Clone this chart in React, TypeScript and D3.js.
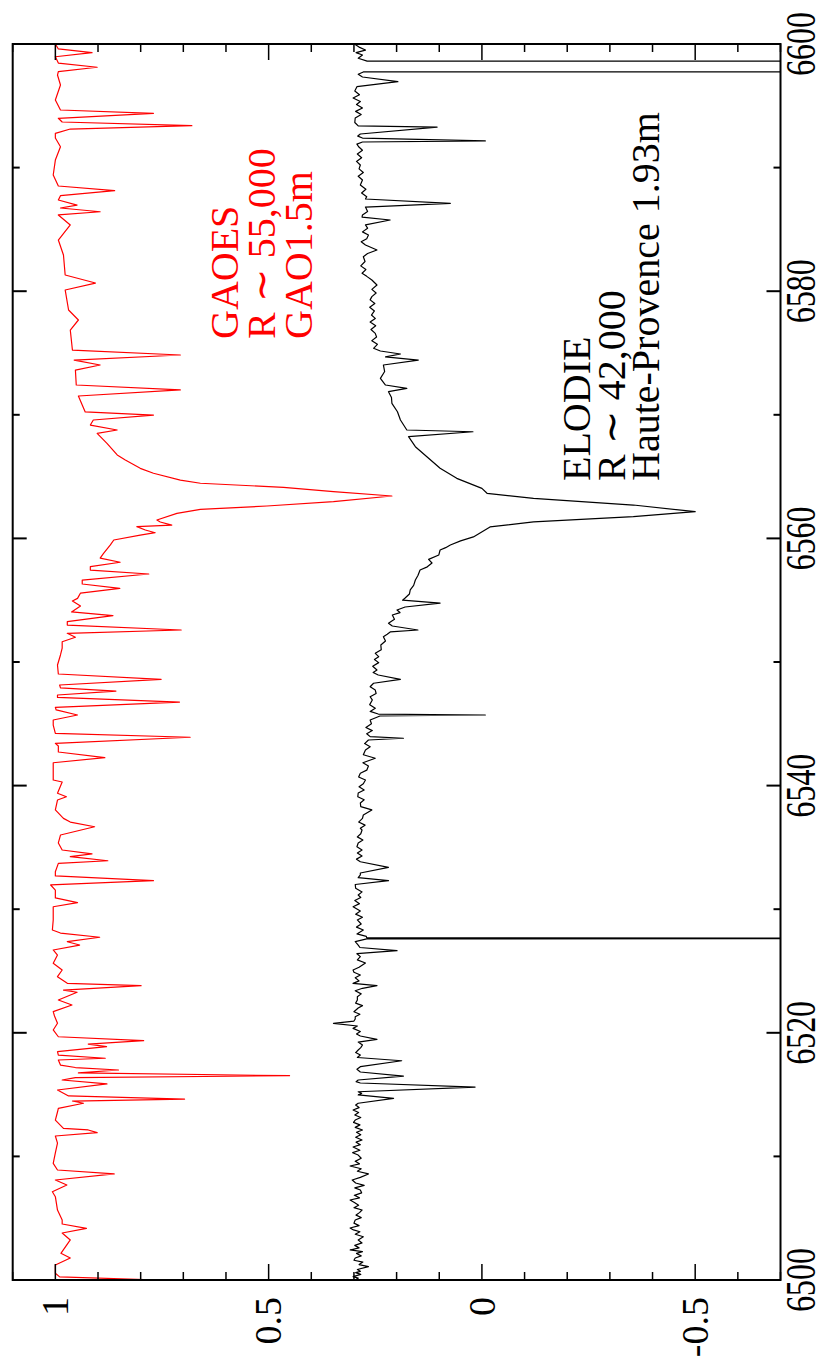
import React from "react";
import * as d3 from "d3";

// GAOES spectrum (wavelength Å, normalized flux)
const gaoes: [number, number][] = [
  [6500.00, 0.755], [6500.25, 0.990], [6500.54, 1.000], [6501.21, 1.000], [6501.78, 0.965], [6502.16, 0.987],
  [6503.24, 0.965], [6503.80, 0.984], [6504.18, 0.927], [6504.53, 0.984], [6504.85, 0.984], [6505.66, 0.995],
  [6506.74, 1.000], [6507.14, 1.007], [6507.69, 0.973], [6508.09, 1.000], [6508.58, 0.862], [6508.90, 0.995],
  [6509.44, 1.005], [6510.28, 1.000], [6511.08, 0.995], [6511.65, 1.000], [6511.92, 0.902], [6512.14, 0.923],
  [6512.27, 0.981], [6512.94, 1.000], [6513.59, 0.995], [6513.89, 0.993], [6514.30, 0.934], [6514.48, 0.960],
  [6514.64, 0.697], [6514.89, 0.969], [6515.37, 0.995], [6515.86, 0.879], [6516.18, 0.984], [6516.38, 0.953],
  [6516.53, 0.451], [6516.75, 0.946], [6516.99, 0.852], [6517.19, 0.953], [6517.39, 0.988], [6517.80, 0.993],
  [6517.94, 0.883], [6518.20, 0.993], [6518.47, 0.995], [6518.88, 0.880], [6519.09, 0.923], [6519.36, 0.793],
  [6519.68, 0.993], [6520.23, 1.005], [6520.77, 0.995], [6521.36, 1.002], [6521.71, 1.005], [6522.25, 0.961],
  [6522.65, 0.993], [6523.28, 0.949], [6523.46, 0.981], [6523.81, 0.799], [6524.00, 0.972], [6524.54, 0.995],
  [6525.08, 0.984], [6525.62, 1.005], [6526.29, 0.995], [6526.70, 1.005], [6527.10, 0.943], [6527.37, 0.972],
  [6527.73, 0.896], [6528.07, 0.988], [6528.32, 1.007], [6529.13, 1.005], [6530.20, 1.005], [6530.53, 0.948],
  [6530.91, 1.000], [6531.55, 1.000], [6531.96, 1.011], [6532.31, 0.770], [6532.69, 1.000], [6533.03, 1.000],
  [6533.71, 0.993], [6533.92, 0.877], [6534.25, 0.965], [6534.47, 0.914], [6534.79, 0.984], [6535.36, 0.993],
  [6536.00, 0.988], [6536.67, 0.908], [6537.05, 0.965], [6537.35, 0.981], [6538.03, 1.000], [6538.83, 0.995],
  [6539.10, 0.974], [6539.38, 0.995], [6540.29, 0.984], [6540.45, 1.005], [6541.26, 1.005], [6541.85, 1.005],
  [6542.26, 0.884], [6542.72, 0.993], [6543.20, 0.993], [6543.42, 1.000], [6543.91, 0.684], [6544.23, 1.000],
  [6544.90, 1.005], [6545.31, 1.005], [6545.71, 0.948], [6546.12, 0.998], [6546.33, 1.000], [6546.76, 0.709],
  [6547.13, 0.995], [6547.33, 0.995], [6547.65, 0.858], [6547.90, 0.988], [6548.14, 0.990], [6548.60, 0.752],
  [6549.03, 0.993], [6549.76, 0.995], [6550.57, 0.988], [6551.13, 0.984], [6551.64, 0.984], [6552.00, 0.953],
  [6552.32, 0.972], [6552.59, 0.705], [6552.99, 0.972], [6553.26, 0.972], [6553.75, 0.865], [6554.05, 0.962],
  [6554.53, 0.941], [6554.94, 0.960], [6555.15, 0.948], [6555.58, 0.941], [6555.96, 0.849], [6556.31, 0.937],
  [6556.63, 0.937], [6557.12, 0.781], [6557.44, 0.918], [6557.71, 0.918], [6558.07, 0.848], [6558.41, 0.895],
  [6558.79, 0.887], [6559.47, 0.871], [6559.87, 0.863], [6560.27, 0.801], [6560.46, 0.766], [6560.68, 0.789],
  [6560.95, 0.809], [6561.08, 0.727], [6561.33, 0.754], [6561.49, 0.762], [6562.03, 0.715], [6562.35, 0.660],
  [6562.62, 0.504], [6562.97, 0.348], [6563.43, 0.211], [6563.78, 0.348], [6564.13, 0.465], [6564.46, 0.660],
  [6564.72, 0.707], [6565.27, 0.770], [6565.67, 0.801], [6566.34, 0.836], [6566.75, 0.855], [6567.69, 0.879],
  [6568.50, 0.902], [6568.77, 0.855], [6569.17, 0.918], [6569.58, 0.911], [6569.98, 0.770], [6570.23, 0.930],
  [6570.79, 0.937], [6571.52, 0.946], [6572.01, 0.707], [6572.41, 0.951], [6573.62, 0.953], [6574.03, 0.895],
  [6574.43, 0.956], [6574.84, 0.707], [6575.24, 0.960], [6576.86, 0.965], [6577.67, 0.946], [6578.48, 0.969],
  [6580.10, 0.977], [6580.66, 0.906], [6581.31, 0.977], [6582.93, 0.981], [6584.14, 0.993], [6585.36, 0.965],
  [6586.17, 0.993], [6586.43, 0.895], [6586.73, 0.988], [6586.97, 0.949], [6587.38, 0.993], [6587.73, 0.988],
  [6588.13, 0.861], [6588.51, 0.993], [6589.40, 1.005], [6590.61, 1.000], [6591.69, 0.988], [6592.39, 1.000],
  [6592.77, 1.000], [6593.12, 0.965], [6593.39, 0.680], [6593.69, 0.984], [6593.99, 0.993], [6594.39, 0.770],
  [6594.66, 0.988], [6595.47, 1.000], [6596.68, 0.988], [6597.49, 0.995], [6597.76, 0.993], [6598.12, 0.902],
  [6598.46, 0.993], [6598.97, 1.000], [6599.30, 0.914], [6599.60, 0.993], [6600.00, 1.000],
];

// ELODIE spectrum (offset by -0.7)
const elodie: [number, number][] = [
  [6500.00, 0.297], [6500.15, 0.290], [6500.27, 0.302], [6500.45, 0.284], [6500.60, 0.296], [6500.70, 0.285],
  [6500.85, 0.292], [6501.08, 0.266], [6501.25, 0.288], [6501.45, 0.279], [6501.60, 0.300], [6501.78, 0.297],
  [6501.95, 0.283], [6502.15, 0.294], [6502.30, 0.280], [6502.43, 0.309], [6502.60, 0.288], [6502.80, 0.298],
  [6503.00, 0.281], [6503.24, 0.290], [6503.50, 0.278], [6503.70, 0.297], [6503.90, 0.286], [6504.05, 0.301],
  [6504.21, 0.309], [6504.40, 0.288], [6504.60, 0.300], [6504.85, 0.297], [6505.05, 0.283], [6505.25, 0.295],
  [6505.45, 0.287], [6505.66, 0.281], [6505.85, 0.300], [6506.05, 0.289], [6506.25, 0.298], [6506.47, 0.309],
  [6506.65, 0.287], [6506.85, 0.299], [6507.05, 0.282], [6507.28, 0.285], [6507.45, 0.298], [6507.65, 0.276],
  [6507.85, 0.296], [6508.09, 0.304], [6508.30, 0.285], [6508.58, 0.266], [6508.80, 0.292], [6509.00, 0.283],
  [6509.22, 0.309], [6509.40, 0.287], [6509.60, 0.297], [6509.85, 0.283], [6510.11, 0.290], [6510.30, 0.303],
  [6510.50, 0.286], [6510.76, 0.302], [6510.95, 0.285], [6511.15, 0.295], [6511.33, 0.281], [6511.55, 0.296],
  [6511.75, 0.284], [6511.95, 0.294], [6512.14, 0.280], [6512.35, 0.297], [6512.55, 0.286], [6512.75, 0.301],
  [6512.94, 0.297], [6513.15, 0.284], [6513.35, 0.298], [6513.55, 0.289], [6513.75, 0.302], [6513.95, 0.288],
  [6514.15, 0.296], [6514.30, 0.290], [6514.70, 0.207], [6514.97, 0.290], [6515.10, 0.282], [6515.23, 0.290],
  [6515.61, 0.016], [6515.94, 0.285], [6516.05, 0.295], [6516.18, 0.290], [6516.50, 0.184], [6516.83, 0.285],
  [6517.05, 0.293], [6517.26, 0.285], [6517.74, 0.188], [6518.00, 0.292], [6518.20, 0.285], [6518.40, 0.296],
  [6518.61, 0.290], [6518.80, 0.284], [6519.01, 0.280], [6519.25, 0.290], [6519.47, 0.246], [6519.74, 0.285],
  [6519.90, 0.294], [6520.10, 0.285], [6520.36, 0.302], [6520.55, 0.292], [6520.77, 0.348], [6520.95, 0.300],
  [6521.12, 0.297], [6521.30, 0.297], [6521.50, 0.286], [6521.70, 0.300], [6522.01, 0.290], [6522.20, 0.280],
  [6522.40, 0.296], [6522.65, 0.292], [6522.92, 0.292], [6523.15, 0.283], [6523.40, 0.297], [6523.60, 0.280],
  [6523.81, 0.246], [6524.00, 0.302], [6524.20, 0.288], [6524.45, 0.297], [6524.68, 0.285], [6524.90, 0.300],
  [6525.08, 0.302], [6525.30, 0.288], [6525.65, 0.273], [6525.90, 0.292], [6526.16, 0.285], [6526.40, 0.293],
  [6526.65, 0.199], [6526.90, 0.286], [6527.10, 0.290], [6527.37, 0.297], [6527.60, 0.270], [6527.64, -3.0],
  [6527.68, 0.270], [6527.80, 0.271], [6528.00, 0.293], [6528.32, 0.278], [6528.55, 0.294], [6528.80, 0.283],
  [6529.13, 0.292], [6529.35, 0.280], [6529.60, 0.296], [6529.85, 0.285], [6530.20, 0.302], [6530.45, 0.287],
  [6530.70, 0.298], [6530.95, 0.284], [6531.15, 0.290], [6531.40, 0.281], [6531.70, 0.296], [6532.00, 0.297],
  [6532.31, 0.219], [6532.55, 0.290], [6532.77, 0.285], [6532.93, 0.285], [6533.39, 0.219], [6533.84, 0.285],
  [6534.05, 0.294], [6534.30, 0.281], [6534.55, 0.292], [6534.79, 0.281], [6535.05, 0.293], [6535.36, 0.290],
  [6535.60, 0.279], [6535.85, 0.292], [6536.10, 0.284], [6536.41, 0.281], [6536.54, 0.285], [6536.80, 0.274],
  [6537.05, 0.289], [6537.35, 0.280], [6537.62, 0.278], [6538.03, 0.258], [6538.30, 0.284], [6538.59, 0.285],
  [6538.85, 0.276], [6539.10, 0.291], [6539.40, 0.290], [6539.65, 0.276], [6539.90, 0.288], [6540.15, 0.278],
  [6540.45, 0.273], [6540.70, 0.289], [6541.00, 0.285], [6541.25, 0.270], [6541.59, 0.266], [6541.85, 0.279],
  [6542.21, 0.250], [6542.50, 0.278], [6542.88, 0.273], [6543.15, 0.262], [6543.40, 0.275], [6543.69, 0.266],
  [6543.83, 0.184], [6543.96, 0.262], [6544.20, 0.270], [6544.45, 0.257], [6544.70, 0.272], [6545.00, 0.259],
  [6545.31, 0.262], [6545.63, 0.239], [6545.71, -0.008], [6545.79, 0.243], [6546.00, 0.262], [6546.25, 0.250],
  [6546.55, 0.263], [6546.93, 0.257], [6547.19, 0.262], [6547.45, 0.248], [6547.73, 0.250], [6548.00, 0.262],
  [6548.28, 0.254], [6548.60, 0.191], [6548.95, 0.243], [6549.15, 0.255], [6549.35, 0.246], [6549.65, 0.256],
  [6549.95, 0.242], [6550.20, 0.252], [6550.43, 0.242], [6550.70, 0.250], [6551.00, 0.236], [6551.38, 0.237],
  [6551.70, 0.226], [6552.05, 0.231], [6552.25, 0.222], [6552.43, 0.215], [6552.59, 0.150], [6552.91, 0.210],
  [6553.13, 0.219], [6553.45, 0.205], [6553.80, 0.210], [6554.00, 0.192], [6554.21, 0.199], [6554.45, 0.180],
  [6554.77, 0.098], [6555.00, 0.186], [6555.18, 0.180], [6555.50, 0.170], [6555.83, 0.168], [6556.20, 0.160],
  [6556.63, 0.156], [6557.00, 0.150], [6557.44, 0.145], [6557.70, 0.128], [6558.01, 0.117], [6558.30, 0.125],
  [6558.66, 0.101], [6559.06, 0.098], [6559.25, 0.085], [6559.47, 0.074], [6559.80, 0.050], [6560.12, 0.020],
  [6560.93, -0.019], [6561.33, -0.121], [6561.76, -0.355], [6562.16, -0.500], [6562.70, -0.355], [6563.24, -0.121],
  [6563.65, -0.012], [6564.05, 0.000], [6564.86, 0.059], [6565.67, 0.098], [6566.61, 0.129], [6567.42, 0.156],
  [6568.23, 0.172], [6568.63, 0.021], [6568.77, 0.176], [6569.58, 0.191], [6570.25, 0.198], [6570.93, 0.211],
  [6571.40, 0.212], [6571.87, 0.219], [6572.14, 0.176], [6572.41, 0.226], [6572.95, 0.238], [6573.50, 0.228],
  [6574.03, 0.231], [6574.43, 0.149], [6574.68, 0.226], [6574.92, 0.191], [6575.16, 0.238], [6575.38, 0.254],
  [6575.70, 0.245], [6576.00, 0.258], [6576.30, 0.247], [6576.59, 0.250], [6576.90, 0.260], [6577.20, 0.249],
  [6577.50, 0.262], [6577.80, 0.250], [6578.07, 0.259], [6578.40, 0.252], [6578.70, 0.263], [6579.00, 0.251],
  [6579.30, 0.262], [6579.56, 0.258], [6579.85, 0.248], [6580.15, 0.258], [6580.50, 0.246], [6580.91, 0.258],
  [6581.20, 0.270], [6581.45, 0.281], [6581.75, 0.272], [6582.05, 0.284], [6582.40, 0.274], [6582.79, 0.278],
  [6583.05, 0.268], [6583.33, 0.246], [6583.74, 0.273], [6584.00, 0.283], [6584.25, 0.270], [6584.54, 0.266],
  [6584.80, 0.280], [6585.10, 0.268], [6585.36, 0.273], [6585.76, 0.215], [6586.00, 0.281], [6586.17, 0.280],
  [6586.45, 0.268], [6586.81, 0.273], [6587.11, 0.074], [6587.46, 0.273], [6587.65, 0.270], [6587.95, 0.282],
  [6588.25, 0.272], [6588.60, 0.285], [6589.00, 0.280], [6589.30, 0.290], [6589.60, 0.278], [6589.90, 0.288],
  [6590.21, 0.285], [6590.50, 0.294], [6590.80, 0.282], [6591.10, 0.292], [6591.40, 0.280], [6591.69, 0.289],
  [6591.90, 0.293], [6592.07, 0.280], [6592.16, -0.008], [6592.39, 0.280], [6592.55, 0.291], [6592.72, 0.285],
  [6593.28, 0.105], [6593.37, 0.290], [6593.65, 0.298], [6594.01, 0.297], [6594.30, 0.283], [6594.55, 0.296],
  [6594.82, 0.280], [6595.10, 0.294], [6595.35, 0.285], [6595.63, 0.302], [6595.90, 0.287], [6596.20, 0.298],
  [6596.55, 0.293], [6596.95, 0.197], [6597.33, 0.280], [6597.55, 0.290], [6597.74, 0.278], [6597.78, -3.0],
  [6598.58, -3.0], [6598.62, 0.269], [6598.85, 0.290], [6599.11, 0.280], [6599.30, 0.295], [6599.51, 0.273],
  [6599.75, 0.288], [6600.00, 0.299],
];

const wlTicks = [6500, 6520, 6540, 6560, 6580, 6600];
const fluxTickLabels = ["1", "0.5", "0", "-0.5"];
const fluxTickValues = [1, 0.5, 0, -0.5];
const gaoesLabel = ["GAOES", "R \u223C 55,000", "GAO1.5m"];
const elodieLabel = ["ELODIE", "R \u223C 42,000", "Haute-Provence 1.93m"];

const W = 820, H = 1362;
const L = 12.7, R = 780.5, T = 44, B = 1280;
const FONT = "'Liberation Serif', 'Times New Roman', Times, serif";

export default function App() {
  const yS = d3.scaleLinear().domain([6500, 6600]).range([B, T]);
  const xS = d3.scaleLinear().domain([1.1, -0.7]).range([L, R]);
  const line = d3.line<[number, number]>().x(d => xS(d[1])).y(d => yS(d[0]));

  const wlMinor = d3.range(6500, 6601, 10);
  const fluxMinor = d3.range(-7, 12).map(k => k / 10);

  return (
    <svg width={W} height={H} style={{ position: "absolute", left: 0, top: 0, background: "#fff" }}>
      <defs>
        <clipPath id="plotclip">
          <rect x={L} y={T} width={R - L} height={B - T} />
        </clipPath>
      </defs>
      <g clipPath="url(#plotclip)">
        <path d={line(gaoes) || ""} fill="none" stroke="#ff0000" strokeWidth={1.2} strokeLinejoin="round" />
        <path d={line(elodie) || ""} fill="none" stroke="#000" strokeWidth={1.2} strokeLinejoin="round" />
      </g>
      {wlMinor.map(v => {
        const y = yS(v);
        const len = v % 20 === 0 ? 14 : 7;
        return (
          <g key={"wt" + v}>
            <line x1={L} x2={L + len} y1={y} y2={y} stroke="#000" strokeWidth={2} />
            <line x1={R} x2={R - len} y1={y} y2={y} stroke="#000" strokeWidth={2} />
          </g>
        );
      })}
      {fluxMinor.map((v, i) => {
        const x = xS(v);
        const k = Math.round(v * 10);
        const len = k % 5 === 0 ? 16 : 8;
        return (
          <g key={"ft" + i}>
            <line x1={x} x2={x} y1={B} y2={B - len} stroke="#000" strokeWidth={1.5} />
            <line x1={x} x2={x} y1={T} y2={T + len} stroke="#000" strokeWidth={1.5} />
          </g>
        );
      })}
      <rect x={L} y={T} width={R - L} height={B - T} fill="none" stroke="#000" strokeWidth={2} />
      {wlTicks.map(v => (
        <text key={"wl" + v} transform={`translate(815,${yS(v)}) rotate(-90) scale(0.74,1)`}
          textAnchor="middle" fontFamily={FONT} fontSize={43} fill="#000">{v}</text>
      ))}
      {fluxTickValues.map((v, i) => (
        <text key={"fl" + i} transform={`translate(${xS(v) + 12.8},1297) rotate(-90)`}
          textAnchor="end" fontFamily={FONT} fontSize={38} fill="#000">{fluxTickLabels[i]}</text>
      ))}
      {gaoesLabel.map((s, i) => (
        <text key={"g" + i} transform={`translate(${238 + i * 37},339) rotate(-90)`}
          fontFamily={FONT} fontSize={40} fill="#ff0000">{s}</text>
      ))}
      {elodieLabel.map((s, i) => (
        <text key={"e" + i} transform={`translate(${590 + i * 34.5},481) rotate(-90)`}
          fontFamily={FONT} fontSize={40} fill="#000">{s}</text>
      ))}
    </svg>
  );
}
